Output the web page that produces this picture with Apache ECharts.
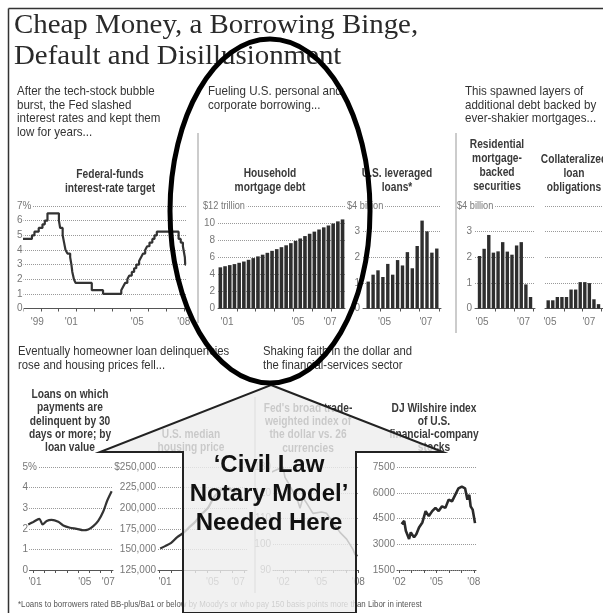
<!DOCTYPE html>
<html><head><meta charset="utf-8">
<script src="https://cdn.jsdelivr.net/npm/echarts@6/dist/echarts.min.js"></script>
<style>html,body{margin:0;padding:0;background:#fff}#c{width:603px;height:613px}</style>
</head><body><div id="c"></div><script>
// ---------------- DATA ----------------
const fedFundsDates = [1999.0,1999.5,1999.64,1999.88,2000.09,2000.22,2000.37,2001.01,2001.08,2001.22,2001.3,2001.38,2001.49,2001.64,2001.71,2001.76,2001.85,2001.94,2002.85,2003.48,2004.5,2004.61,2004.72,2004.84,2004.95,2005.09,2005.22,2005.34,2005.5,2005.61,2005.72,2005.84,2005.95,2006.08,2006.24,2006.36,2006.49,2007.71,2007.83,2007.95,2008.06,2008.08,2008.12];
const fedFundsRates = [4.75,5.0,5.25,5.5,5.75,6.0,6.5,6.0,5.5,5.0,4.5,4.0,3.75,3.5,3.0,2.5,2.0,1.75,1.25,1.0,1.25,1.5,1.75,2.0,2.25,2.5,2.75,3.0,3.25,3.5,3.75,4.0,4.25,4.5,4.75,5.0,5.25,4.75,4.5,4.25,3.5,3.0,3.0];

const mortgageQuarters = ['2001Q1','2001Q2','2001Q3','2001Q4','2002Q1','2002Q2','2002Q3','2002Q4','2003Q1','2003Q2','2003Q3','2003Q4','2004Q1','2004Q2','2004Q3','2004Q4','2005Q1','2005Q2','2005Q3','2005Q4','2006Q1','2006Q2','2006Q3','2006Q4','2007Q1','2007Q2','2007Q3'];
const mortgageDebt = [4.82,4.95,5.08,5.2,5.35,5.5,5.7,5.9,6.1,6.3,6.52,6.75,6.95,7.18,7.4,7.65,7.92,8.2,8.48,8.75,9.0,9.25,9.5,9.72,9.95,10.2,10.43];

const loanQuarters = ['2004Q2','2004Q3','2004Q4','2005Q1','2005Q2','2005Q3','2005Q4','2006Q1','2006Q2','2006Q3','2006Q4','2007Q1','2007Q2','2007Q3','2007Q4'];
const leveragedLoans = [1.05,1.32,1.49,1.23,1.74,1.32,1.89,1.68,2.2,1.57,2.44,3.43,3.01,2.18,2.34];

const securitiesQuarters = ['2005Q1','2005Q2','2005Q3','2005Q4','2006Q1','2006Q2','2006Q3','2006Q4','2007Q1','2007Q2','2007Q3','2007Q4'];
const rmbs = [2.05,2.33,2.87,2.18,2.23,2.59,2.22,2.1,2.46,2.59,0.94,0.45];
const clo = [0.32,0.32,0.45,0.45,0.45,0.74,0.74,1.03,1.03,0.99,0.36,0.17];

const delinqDates = [2000.55,2001.0,2001.54,2001.84,2002.2,2002.64,2003.23,2003.68,2004.28,2004.88,2005.46,2005.91,2006.36,2006.8,2007.25,2007.6,2008.0];
const delinqValues = [2.21,2.33,2.48,2.21,2.38,2.43,2.34,2.16,2.05,2.0,1.93,1.97,2.13,2.38,2.84,3.36,3.82];

const houseDates = [2001.1,2001.5,2002.0,2002.5,2003.0,2003.5,2004.0,2004.5,2005.0,2005.5,2006.0,2006.5,2006.8,2007.2,2007.5,2007.8];
const housePrices = [151000,154000,158000,165000,170000,177000,184000,193000,200000,213000,221000,226000,224000,220000,222000,210000];

const dollarDates = [2001.05,2001.98,2002.14,2002.38,2002.78,2003.18,2003.34,2003.58,2003.87,2004.38,2005.07,2005.47,2005.98,2006.54,2007.07,2007.58,2007.74,2007.95];
const dollarIndex = [128,130,126,124,120.4,116.5,114,118,116,112,112.5,112,108.5,104.6,102,98,96,95.5];

const wilshireDates = [2002.19,2002.4,2002.53,2002.79,2002.93,2003.19,2003.38,2003.59,2003.86,2004.12,2004.38,2004.65,2004.91,2005.17,2005.44,2005.71,2005.97,2006.24,2006.5,2006.76,2007.03,2007.29,2007.48,2007.63,2007.74,2007.9,2008.09];
const wilshireValues = [4170,4360,3790,3310,3690,3400,3600,3980,4270,4930,4640,4930,5120,4930,5210,5120,5600,5500,5880,6260,6360,6260,5600,5880,5210,5020,4230];

// tick labels
const fedLabels = [[1999.8,"'99"],[2001.7,"'01"],[2005.4,"'05"],[2008.0,"'08"]];
const mortgageLabels = [[2001.48,"'01"],[2005.26,"'05"],[2006.96,"'07"]];
const loanLabels = [[2005.21,"'05"],[2007.32,"'07"]];
const rmbsLabels = [[2005.26,"'05"],[2007.5,"'07"]];
const cloLabels = [[2005.22,"'05"],[2007.35,"'07"]];
const delinqLabels = [[2001.15,"'01"],[2005.6,"'05"],[2007.7,"'07"]];
const houseLabels = [[2001.5,"'01"],[2005.4,"'05"],[2007.5,"'07"]];
const dollarLabels = [[2002,"'02"],[2005,"'05"],[2008,"'08"]];
const wilshireLabels = [[2002,"'02"],[2005,"'05"],[2008,"'08"]];

// ---------------- HELPERS ----------------
const SANS = '"Liberation Sans", Arial, sans-serif';
const qx = q => +q.slice(0,4) + (+q.slice(5) - 0.5) / 4;
const pairs = (xs, ys) => xs.map((x, i) => [x, ys[i]]);
const yearTicks = (a, b) => { const r = []; for (let y = a; y <= b; y++) r.push(y); return r; };

const grids = [], xAxes = [], yAxes = [], series = [];
function panel(g, xCfg, yCfg) {
  const gi = grids.length;
  grids.push(Object.assign({containLabel:false}, g));
  const lab = xCfg.labels;
  xAxes.push({
    gridIndex: gi, type: 'value', min: xCfg.min, max: xCfg.max,
    axisLine: {show: true, onZero: false, lineStyle: {color: '#555', width: 1, type: xCfg.dotted ? 'dotted' : 'solid'}},
    axisTick: {show: true, length: 3, lineStyle: {color: '#555'}, customValues: xCfg.ticks},
    axisLabel: {customValues: lab.map(l => l[0]), fontSize: 10, color: '#777', fontFamily: SANS, margin: xCfg.margin,
      formatter: v => { let best = lab[0]; lab.forEach(l => { if (Math.abs(l[0]-v) < Math.abs(best[0]-v)) best = l; }); return best[1]; }},
    splitLine: {show: false}
  });
  const yl = {show: yCfg.showLabels !== false, fontSize: 10, color: '#777', fontFamily: SANS, margin: yCfg.margin || 3, formatter: yCfg.formatter};
  if (yCfg.alignLeft) Object.assign(yl, {align: 'left', backgroundColor: '#fff', padding: [0, 1, 0, 0]});
  yAxes.push({
    gridIndex: gi, type: 'value', min: yCfg.min, max: yCfg.max, interval: yCfg.interval,
    axisLine: {show: false}, axisTick: {show: false},
    axisLabel: yl,
    splitLine: {show: true, lineStyle: {type: 'dotted', color: '#999', width: 1}}
  });
  return gi;
}
function lineSeries(gi, data, extra) {
  series.push(Object.assign({type: 'line', xAxisIndex: gi, yAxisIndex: gi, data, symbol: 'none',
    lineStyle: {color: '#333', width: 2.2}, animation: false}, extra || {}));
}
function barSeries(gi, data, w) {
  series.push({type: 'bar', xAxisIndex: gi, yAxisIndex: gi, data, barWidth: w,
    itemStyle: {color: '#2e2e2e'}, animation: false});
}

// ---------------- PANELS ----------------
let g;
g = panel({left: 23, top: 206, width: 164, height: 102.5},
  {min: 1999.0, max: 2008.18, labels: fedLabels, ticks: yearTicks(1999, 2008), margin: 9},
  {min: 0, max: 7, interval: 1, margin: 6, alignLeft: true, formatter: v => v === 7 ? '7%' : v});
lineSeries(g, pairs(fedFundsDates, fedFundsRates), {step: 'end'});

g = panel({left: 218, top: 206, width: 127, height: 102.5},
  {min: 2001.0, max: 2007.755, labels: mortgageLabels, ticks: yearTicks(2002, 2007), margin: 9},
  {min: 0, max: 12, interval: 2, formatter: v => v === 12 ? '' : v});
barSeries(g, pairs(mortgageQuarters.map(qx), mortgageDebt), 3.6);

g = panel({left: 363, top: 206, width: 78, height: 102.5},
  {min: 2004.11, max: 2008.09, labels: loanLabels, ticks: yearTicks(2005, 2008), margin: 9},
  {min: 0, max: 4, interval: 1, formatter: v => v === 4 ? '' : v});
barSeries(g, pairs(loanQuarters.map(qx), leveragedLoans), 3.4);

g = panel({left: 475, top: 206, width: 60, height: 102.5},
  {min: 2004.882, max: 2008.116, labels: rmbsLabels, ticks: yearTicks(2006, 2008), margin: 9},
  {min: 0, max: 4, interval: 1, formatter: v => v === 4 ? '' : v});
barSeries(g, pairs(securitiesQuarters.map(qx), rmbs), 3.4);

g = panel({left: 545, top: 206, width: 58, height: 102.5},
  {min: 2004.95, max: 2008.12, labels: cloLabels, ticks: yearTicks(2006, 2008), margin: 9},
  {min: 0, max: 4, interval: 1, showLabels: false});
barSeries(g, pairs(securitiesQuarters.map(qx), clo), 3.4);

g = panel({left: 27, top: 467, width: 86, height: 103},
  {min: 2000.44, max: 2008.12, labels: delinqLabels, ticks: yearTicks(2001, 2008), margin: 7},
  {min: 0, max: 5, interval: 1, margin: 4.5, alignLeft: true, formatter: v => v === 5 ? '5%' : v});
lineSeries(g, pairs(delinqDates, delinqValues), {smooth: 0.3});

g = panel({left: 158, top: 467, width: 89, height: 103},
  {min: 2000.92, max: 2008.22, labels: houseLabels, ticks: yearTicks(2001, 2008), margin: 7},
  {min: 125000, max: 250000, interval: 25000, margin: 2,
   formatter: v => (v === 250000 ? '$' : '') + v.toLocaleString('en-US')});
lineSeries(g, pairs(houseDates, housePrices), {smooth: 0.3});

g = panel({left: 273, top: 467, width: 86, height: 103},
  {min: 2001.18, max: 2008.06, labels: dollarLabels, ticks: yearTicks(2002, 2008), margin: 7, dotted: true},
  {min: 90, max: 130, interval: 10, margin: 2});
lineSeries(g, pairs(dollarDates, dollarIndex), {lineStyle: {color: '#333', width: 1.6}});

g = panel({left: 397, top: 467, width: 79, height: 103},
  {min: 2001.82, max: 2008.17, labels: wilshireLabels, ticks: yearTicks(2002, 2008), margin: 7, dotted: true},
  {min: 1500, max: 7500, interval: 1500, margin: 2, formatter: v => String(v)});
lineSeries(g, pairs(wilshireDates, wilshireValues), {lineStyle: {color: '#2a2a2a', width: 2.6}});

// ---------------- GRAPHICS ----------------
const gfx = [];
function T(text, x, y, o) {
  o = o || {};
  gfx.push({type: 'text', x, y, z: o.z || 50, silent: true, scaleX: o.sx || 1,
    style: {text, font: o.font || ('12px ' + SANS), fill: o.fill || '#333', align: o.align || 'left',
      verticalAlign: 'middle', lineHeight: o.lh, backgroundColor: o.bg, padding: o.pad}});
}
function L(x1, y1, x2, y2, w, c) {
  gfx.push({type: 'line', z: 40, silent: true, shape: {x1, y1, x2, y2}, style: {stroke: c || '#444', lineWidth: w || 1}});
}
// frame
L(8.5, 8.5, 603, 8.5, 1.5, '#333');
L(8.5, 8.5, 8.5, 613, 1.5, '#333');
// title
const SERIF = '27px "Liberation Serif", "DejaVu Serif", serif';
T('Cheap Money, a Borrowing Binge,', 14, 26, {font: SERIF, fill: '#2a2a2a', sx: 1.07});
T('Default and Disillusionment', 14, 57, {font: SERIF, fill: '#2a2a2a', sx: 1.07});
// intro texts
const intro = '13px ' + SANS;
T('After the tech-stock bubble\nburst, the Fed slashed\ninterest rates and kept them\nlow for years...', 17, 112, {font: intro, lh: 13.4, sx: 0.89});
T('Fueling U.S. personal and\ncorporate borrowing...', 208, 98.5, {font: intro, lh: 13.4, sx: 0.89});
T('This spawned layers of\nadditional debt backed by\never-shakier mortgages...', 465, 105, {font: intro, lh: 13.4, sx: 0.89});
T('Eventually homeowner loan delinquencies\nrose and housing prices fell...', 18, 358.5, {font: intro, lh: 13.4, sx: 0.87});
T('Shaking faith in the dollar and\nthe financial-services sector', 263, 358.5, {font: intro, lh: 13.4, sx: 0.87});
// separators
L(198, 133, 198, 323, 1, '#999');
L(456, 133, 456, 333, 1, '#999');
L(255, 397, 255, 593, 1, '#999');
// panel titles
const bold = 'bold 12px ' + SANS;
const tsx = 0.85;
T('Federal-funds\ninterest-rate target', 110, 181.5, {font: bold, align: 'center', lh: 13.5, sx: tsx, fill: '#3a3a3a'});
T('Household\nmortgage debt', 270, 180.5, {font: bold, align: 'center', lh: 13.5, sx: tsx, fill: '#3a3a3a'});
T('U.S. leveraged\nloans*', 397, 180.5, {font: bold, align: 'center', lh: 13.5, sx: tsx, fill: '#3a3a3a'});
T('Residential\nmortgage-\nbacked\nsecurities', 497, 166, {font: bold, align: 'center', lh: 14, sx: tsx, fill: '#3a3a3a'});
T('Collateralized\nloan\nobligations', 574, 173.5, {font: bold, align: 'center', lh: 14, sx: tsx, fill: '#3a3a3a'});
T('Loans on which\npayments are\ndelinquent by 30\ndays or more; by\nloan value', 70, 421.3, {font: bold, align: 'center', lh: 13.2, sx: tsx, fill: '#3a3a3a'});
T('U.S. median\nhousing price', 191, 441.5, {font: bold, align: 'center', lh: 13.3, sx: tsx, fill: '#3a3a3a'});
T("Fed's broad trade-\nweighted index of\nthe dollar vs. 26\ncurrencies", 308, 428.3, {font: bold, align: 'center', lh: 13.3, sx: tsx, fill: '#3a3a3a'});
T('DJ Wilshire index\nof U.S.\nfinancial-company\nstocks', 434, 428, {font: bold, align: 'center', lh: 13.2, sx: tsx, fill: '#3a3a3a'});
// top unit labels
const unit = '10px ' + SANS;
T('$12 trillion', 203, 206, {font: unit, fill: '#777', bg: '#fff', pad: [0, 2, 0, 0], sx: 0.92});
T('$4 billion', 347, 206, {font: unit, fill: '#777', bg: '#fff', pad: [0, 2, 0, 0], sx: 0.92});
T('$4 billion', 457, 206, {font: unit, fill: '#777', bg: '#fff', pad: [0, 2, 0, 0], sx: 0.92});
// footnote
T("*Loans to borrowers rated BB-plus/Ba1 or below by Moody's or who pay 150 basis points more than Libor in interest", 18, 605, {font: '9px ' + SANS, fill: '#555', sx: 0.875});
// house overlay
gfx.push({type: 'polygon', z: 90, silent: true,
  shape: {points: [[271, 385], [443, 452], [356, 452], [356, 613], [183, 613], [183, 452], [100, 452]]},
  style: {fill: 'rgba(238,238,238,0.8)', stroke: '#222', lineWidth: 2}});
T('\u2018Civil Law\nNotary Model\u2019\nNeeded Here', 269, 494, {font: 'bold 24px "Liberation Sans", Arial, sans-serif', fill: '#111', align: 'center', lh: 29, z: 95});
// ellipse
gfx.push({type: 'ellipse', z: 99, silent: true, shape: {cx: 270, cy: 211, rx: 100, ry: 172},
  style: {fill: 'none', stroke: '#000', lineWidth: 5}});

const chart = echarts.init(document.getElementById('c'), null, {renderer: 'canvas'});
chart.setOption({
  animation: false, backgroundColor: '#fff',
  grid: grids, xAxis: xAxes, yAxis: yAxes, series,
  graphic: {elements: gfx}
});
</script></body></html>
